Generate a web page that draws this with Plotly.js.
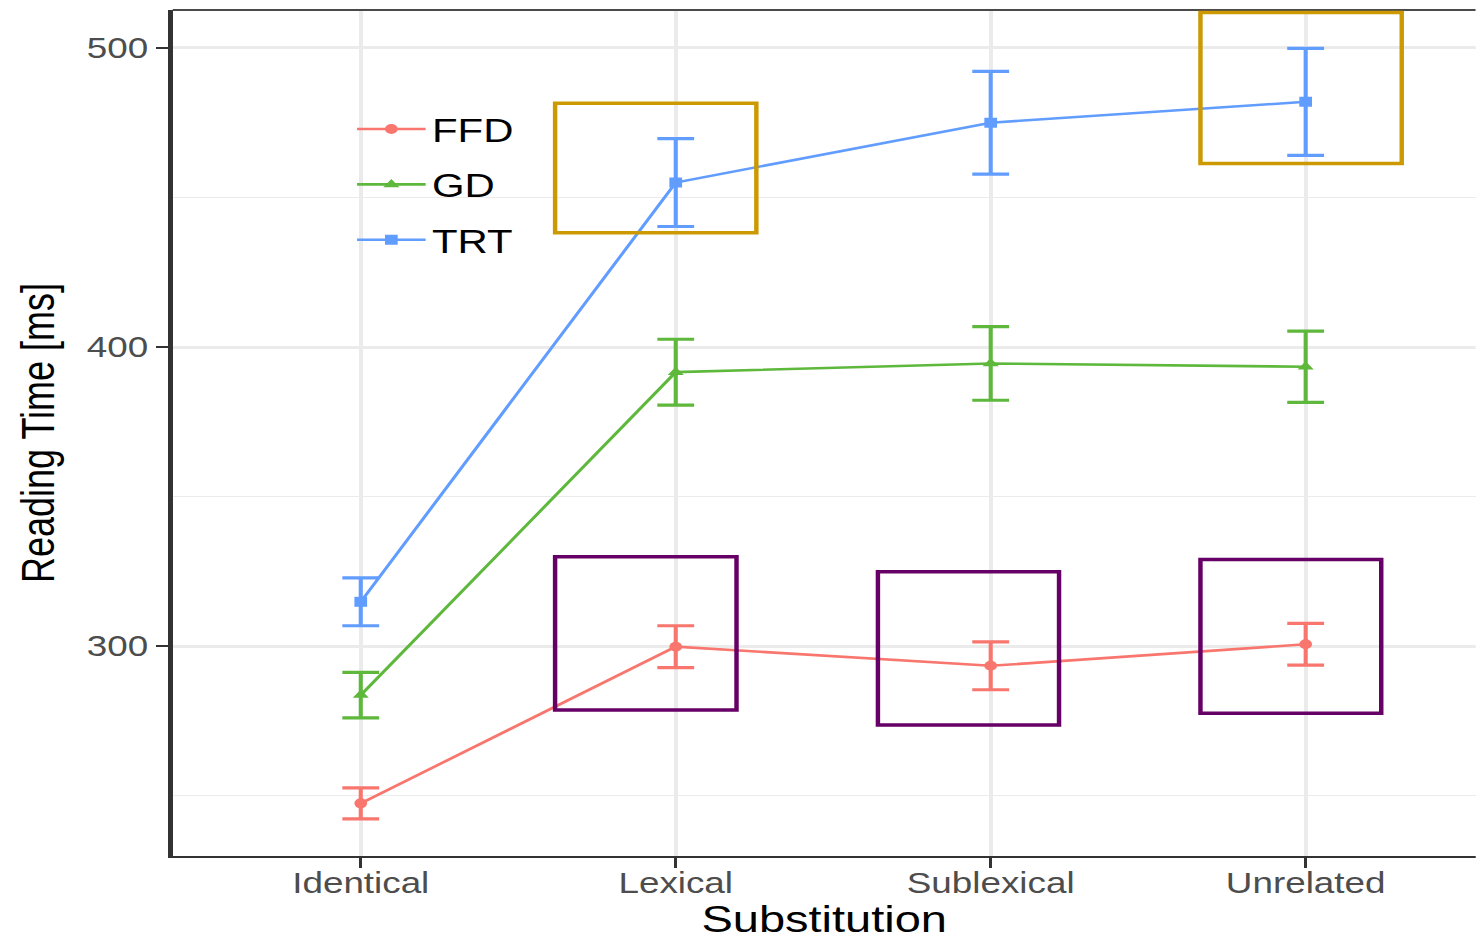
<!DOCTYPE html>
<html>
<head>
<meta charset="utf-8">
<script src="https://cdn.plot.ly/plotly-3.0.1.min.js"></script>
<style>
  html, body { margin: 0; padding: 0; background: #ffffff; overflow: hidden; }
  #wrap { width: 1476px; height: 940px; overflow: hidden; }
  #chart { width: 1162px; height: 940px; transform: scaleX(1.27); transform-origin: 0 0; }
</style>
</head>
<body>
<div id="wrap"><div id="chart"></div></div>
<script>
// ---- data ----
const categories = ['Identical', 'Lexical', 'Sublexical', 'Unrelated'];
const seriesNames = ['FFD', 'GD', 'TRT'];
const ffdMean = [247.4, 299.8, 293.4, 300.6];
const ffdErr  = [5.2, 7.0, 8.0, 7.0];
const gdMean  = [283.6, 391.6, 394.5, 393.4];
const gdErr   = [7.6, 11.0, 12.3, 11.9];
const trtMean = [314.8, 455.0, 475.0, 482.0];
const trtErr  = [8.0, 14.7, 17.2, 17.9];
const yTickVals = [300, 400, 500];
const yTickText = ['300', '400', '500'];

// ---- styling ----
const FONT = 'Liberation Sans, Arial, Helvetica, sans-serif';
const colors = ['#F8766D', '#5DB83C', '#619CFF'];
const symbols = ['circle', 'triangle-up', 'square'];
const markerSizes = [10, 11, 10];
const means = [ffdMean, gdMean, trtMean];
const errs = [ffdErr, gdErr, trtErr];

const traces = seriesNames.map((name, i) => ({
  type: 'scatter',
  mode: 'lines+markers',
  name: name,
  legendgroup: name,
  x: categories,
  y: means[i],
  line: { color: colors[i], width: 2.6 },
  marker: { color: colors[i], symbol: symbols[i], size: markerSizes[i] },
  error_y: { type: 'data', array: errs[i], visible: true, color: colors[i], thickness: 3.2, width: 14.5 },
  hoverinfo: 'x+y+name'
}));

// highlight boxes (data coordinates of the category axis)
function box(x0, x1, y0, y1, col) {
  return { type: 'rect', xref: 'x', yref: 'y', x0: x0, x1: x1, y0: y0, y1: y1,
           line: { color: col, width: 3.5 }, fillcolor: 'rgba(0,0,0,0)', layer: 'above' };
}
const GOLD = '#CC9900', PURPLE = '#660066';
const shapes = [
  // white legend key background (sits over the gridlines, under the data)
  { type: 'rect', xref: 'paper', yref: 'paper', x0: 0.1225, x1: 0.2822, y0: 0.6738, y1: 0.9255,
    line: { width: 0 }, fillcolor: '#ffffff', layer: 'between' },
  { type: 'line', xref: 'paper', yref: 'paper', x0: 0, x1: 1, y0: 1, y1: 1,
    line: { color: '#4a4a4a', width: 2 }, layer: 'above' },
  box(0.617, 1.256, 438.2, 481.5, GOLD),
  box(2.666, 3.305, 461.4, 511.9, GOLD),
  box(0.617, 1.193, 278.6, 329.9, PURPLE),
  box(1.642, 2.217, 273.6, 324.85, PURPLE),
  box(2.666, 3.240, 277.5, 328.99, PURPLE)
];

const layout = {
  width: 1162,
  height: 940,
  margin: { l: 136, r: 0, t: 10, b: 84, pad: 0 },
  paper_bgcolor: '#ffffff',
  plot_bgcolor: '#ffffff',
  font: { family: FONT, color: '#000000' },
  showlegend: true,
  legend: {
    x: 0.1366, y: 0.8924, xanchor: 'left', yanchor: 'top',
    bgcolor: 'rgba(255,255,255,0)', borderwidth: 0,
    font: { family: FONT, size: 33, color: '#000000' },
    tracegroupgap: 9.5,
    itemwidth: 54
  },
  xaxis: {
    type: 'category',
    range: [-0.597, 3.54],
    showgrid: true, gridcolor: '#EBEBEB', gridwidth: 3,
    zeroline: false,
    showline: true, linecolor: '#333333', linewidth: 2,
    ticks: 'outside', ticklen: 10, tickwidth: 2.5, tickcolor: '#333333',
    ticklabelstandoff: -10,
    tickfont: { family: FONT, size: 29, color: '#4D4D4D' },
    title: { text: 'Substitution', font: { family: FONT, size: 37, color: '#000000' }, standoff: 23 },
    fixedrange: true
  },
  yaxis: {
    range: [229.8, 512.7],
    tickvals: yTickVals, ticktext: yTickText,
    showgrid: true, gridcolor: '#EBEBEB', gridwidth: 3,
    minor: { tickvals: [250, 350, 450], showgrid: true, gridcolor: '#EBEBEB', gridwidth: 1.5, ticks: '' },
    zeroline: false,
    showline: true, linecolor: '#333333', linewidth: 3.5,
    ticks: 'outside', ticklen: 10, tickwidth: 2.5, tickcolor: '#333333',
    tickfont: { family: FONT, size: 29, color: '#4D4D4D' },
    title: { text: 'Reading Time [ms]', font: { family: FONT, size: 36, color: '#000000' }, standoff: 15 },
    fixedrange: true
  },
  shapes: shapes
};

Plotly.newPlot('chart', traces, layout, { displayModeBar: false, staticPlot: true });
</script>
</body>
</html>
